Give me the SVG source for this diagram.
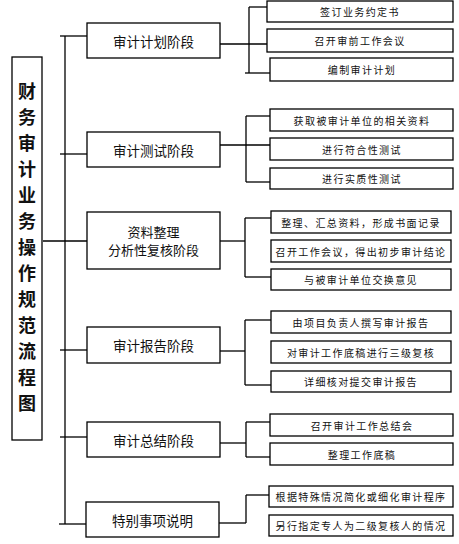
<svg xmlns="http://www.w3.org/2000/svg" width="459" height="544" viewBox="0 0 459 544">
<style>
rect{fill:#fff;stroke:#000;stroke-width:1.3}
#connectors line{stroke:#000;stroke-width:1.3}
text{font-family:"Noto Sans CJK SC","Noto Sans",sans-serif;fill:#111;text-anchor:middle;dominant-baseline:central}
.t{font-size:18px;font-weight:700}
.s{font-size:13.5px}
.s2{font-size:13px}
.r{font-size:10px;letter-spacing:1.4px}
</style>
<rect width="459" height="544" style="fill:#fff;stroke:none"/>
<g id="connectors">
<line x1="65" y1="36" x2="65" y2="524"/>
<line x1="60" y1="36" x2="87" y2="36"/>
<line x1="60" y1="154" x2="87" y2="154"/>
<line x1="43" y1="241" x2="87" y2="241"/>
<line x1="60" y1="350" x2="87" y2="350"/>
<line x1="60" y1="437" x2="87" y2="437"/>
<line x1="59" y1="524" x2="86" y2="524"/>
<line x1="220" y1="44" x2="267" y2="44"/>
<line x1="249" y1="7" x2="249" y2="73"/>
<line x1="249" y1="7" x2="267" y2="7"/>
<line x1="245" y1="73" x2="270" y2="73"/>
<line x1="220" y1="145" x2="270" y2="145"/>
<line x1="246" y1="116" x2="246" y2="182"/>
<line x1="246" y1="116" x2="270" y2="116"/>
<line x1="246" y1="182" x2="270" y2="182"/>
<line x1="220" y1="241" x2="245" y2="241"/>
<line x1="245" y1="218" x2="245" y2="277"/>
<line x1="245" y1="218" x2="271" y2="218"/>
<line x1="245" y1="277" x2="271" y2="277"/>
<line x1="220" y1="351" x2="245" y2="351"/>
<line x1="245" y1="320" x2="245" y2="385"/>
<line x1="245" y1="320" x2="271" y2="320"/>
<line x1="245" y1="385" x2="271" y2="385"/>
<line x1="220" y1="443" x2="246" y2="443"/>
<line x1="246" y1="422" x2="246" y2="457"/>
<line x1="246" y1="422" x2="270" y2="422"/>
<line x1="246" y1="457" x2="270" y2="457"/>
<line x1="219" y1="523" x2="246" y2="523"/>
<line x1="246" y1="495" x2="246" y2="523"/>
<line x1="246" y1="495" x2="269" y2="495"/>
</g>
<g id="title">
<rect x="12" y="57" width="30" height="383"/>
<text class="t" x="27" y="90">财</text>
<text class="t" x="27" y="116">务</text>
<text class="t" x="27" y="142">审</text>
<text class="t" x="27" y="168">计</text>
<text class="t" x="27" y="194">业</text>
<text class="t" x="27" y="220">务</text>
<text class="t" x="27" y="246">操</text>
<text class="t" x="27" y="272">作</text>
<text class="t" x="27" y="298">规</text>
<text class="t" x="27" y="324">范</text>
<text class="t" x="27" y="350">流</text>
<text class="t" x="27" y="376">程</text>
<text class="t" x="27" y="402">图</text>
</g>
<g id="stage1"><rect x="87" y="23" width="133" height="35"/><text class="s" x="153.5" y="41">审计计划阶段</text></g>
<g id="stage2"><rect x="87" y="132" width="133" height="35"/><text class="s" x="153.5" y="150">审计测试阶段</text></g>
<g id="stage3"><rect x="87" y="212" width="133" height="57"/><text class="s2" x="153.5" y="231">资料整理</text><text class="s2" x="153.5" y="249.5">分析性复核阶段</text></g>
<g id="stage4"><rect x="87" y="327" width="133" height="36"/><text class="s" x="153.5" y="345">审计报告阶段</text></g>
<g id="stage5"><rect x="87" y="422" width="133" height="35"/><text class="s" x="153.5" y="440">审计总结阶段</text></g>
<g id="stage6"><rect x="86" y="502" width="133" height="35"/><text class="s" x="152.5" y="520">特别事项说明</text></g>
<g id="a1"><rect x="267" y="1" width="186" height="21"/><text class="r" x="360" y="11.5">签订业务约定书</text></g>
<g id="a2"><rect x="267" y="29" width="186" height="23"/><text class="r" x="360" y="40.5">召开审前工作会议</text></g>
<g id="a3"><rect x="270" y="58" width="183" height="23"/><text class="r" x="362" y="69.5">编制审计计划</text></g>
<g id="b1"><rect x="270" y="109" width="183" height="22"/><text class="r" x="362" y="120">获取被审计单位的相关资料</text></g>
<g id="b2"><rect x="270" y="138" width="183" height="22"/><text class="r" x="362" y="149">进行符合性测试</text></g>
<g id="b3"><rect x="270" y="168" width="183" height="21"/><text class="r" x="362" y="178.5">进行实质性测试</text></g>
<g id="c1"><rect x="271" y="211" width="180" height="22"/><text class="r" x="361" y="222">整理、汇总资料，形成书面记录</text></g>
<g id="c2"><rect x="271" y="240" width="180" height="22"/><text class="r" x="361" y="251">召开工作会议，得出初步审计结论</text></g>
<g id="c3"><rect x="271" y="269" width="180" height="21"/><text class="r" x="361" y="279.5">与被审计单位交换意见</text></g>
<g id="d1"><rect x="271" y="311" width="180" height="22"/><text class="r" x="361" y="322">由项目负责人撰写审计报告</text></g>
<g id="d2"><rect x="271" y="341" width="180" height="22"/><text class="r" x="361" y="352">对审计工作底稿进行三级复核</text></g>
<g id="d3"><rect x="271" y="371" width="180" height="21"/><text class="r" x="361" y="381.5">详细核对提交审计报告</text></g>
<g id="e1"><rect x="270" y="414" width="183" height="22"/><text class="r" x="362" y="425">召开审计工作总结会</text></g>
<g id="e2"><rect x="270" y="443" width="183" height="22"/><text class="r" x="362" y="454">整理工作底稿</text></g>
<g id="f1"><rect x="269" y="486" width="184" height="21"/><text class="r" x="361" y="496.5">根据特殊情况简化或细化审计程序</text></g>
<g id="f2"><rect x="269" y="515" width="184" height="21"/><text class="r" x="361" y="525.5">另行指定专人为二级复核人的情况</text></g>
</svg>
